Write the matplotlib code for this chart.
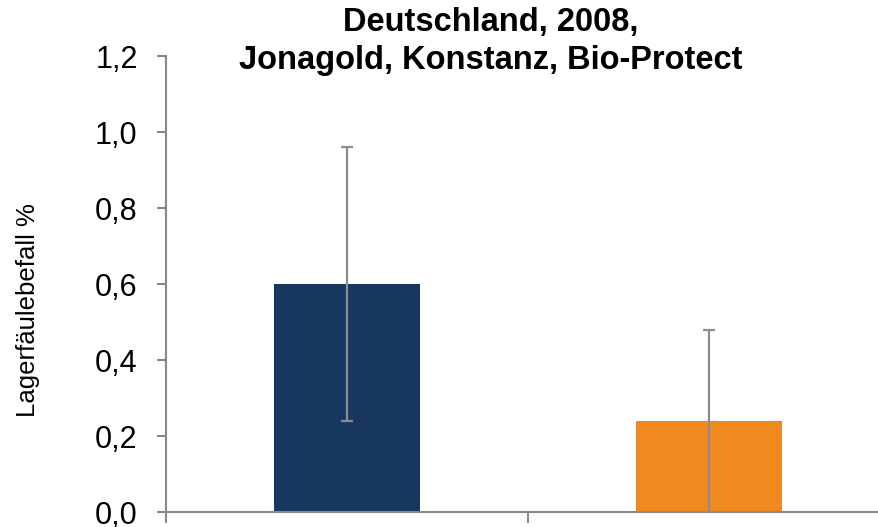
import matplotlib
matplotlib.use("Agg")
import matplotlib.pyplot as plt
from matplotlib.ticker import FuncFormatter

# data
categories = ["Kontrolle", "Bio-Protect"]
values = [0.60, 0.24]
errors = [0.36, 0.24]
colors = ["#17375e", "#f0891f"]
yticks = [0.0, 0.2, 0.4, 0.6, 0.8, 1.0, 1.2]

plt.rcParams["font.family"] = ["Liberation Sans", "DejaVu Sans"]

fig = plt.figure(figsize=(8.79, 5.27), dpi=100)
ax = fig.add_axes([166 / 879, 15 / 527, 724 / 879, 456 / 527])

x = range(len(values))
ax.bar(x, values, width=0.405, color=colors, zorder=2)
ax.errorbar(x, values, yerr=errors, fmt="none", ecolor="#8c8c8c",
            elinewidth=1.6, capsize=4.5, capthick=1.6, zorder=3)

ax.set_xlim(-0.5, len(values) - 0.5)
ax.set_ylim(0, 1.2)
ax.set_yticks(yticks)
ax.yaxis.set_major_formatter(FuncFormatter(lambda v, p: f"{v:.1f}".replace(".", ",")))
ax.set_xticks([i - 0.5 for i in range(len(values) + 1)])
ax.set_xticklabels([])

for side in ["top", "right"]:
    ax.spines[side].set_visible(False)
for side in ["left", "bottom"]:
    ax.spines[side].set_color("#898989")
    ax.spines[side].set_linewidth(1.5)

ax.tick_params(axis="y", length=6.5, width=1.5, color="#898989",
               labelsize=22, pad=14)
ax.tick_params(axis="x", length=8, width=1.5, color="#898989")

fig.text(28 / 879, 1 - 310 / 527, "Lagerfäulebefall %", rotation=90,
         ha="center", va="center", fontsize=18.5)
fig.text(491 / 879, 1 - 7 / 527, "Deutschland, 2008,\nJonagold, Konstanz, Bio-Protect",
         ha="center", va="top", fontsize=23.5, fontweight="bold", linespacing=1.3)

fig.savefig("out.png", dpi=100)
